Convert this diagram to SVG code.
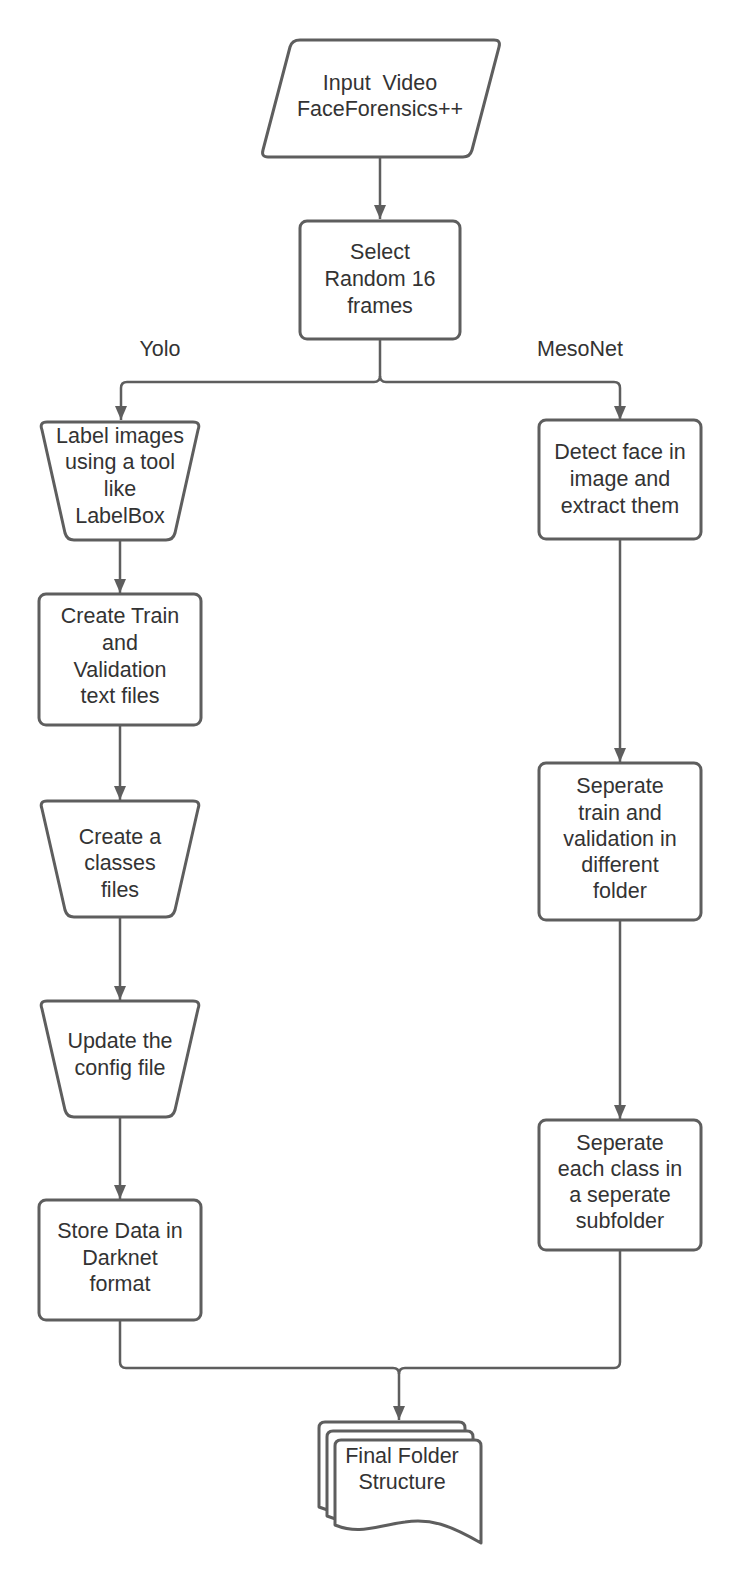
<svg xmlns="http://www.w3.org/2000/svg" width="740" height="1584" viewBox="0 0 740 1584">
<style>
.s{fill:#ffffff;stroke:#5e5e5e;stroke-width:3;stroke-linejoin:round}
.t{font-family:"Liberation Sans",Arial,sans-serif;font-size:21.5px;fill:#333333;text-anchor:middle}
.c{fill:none;stroke:#5e5e5e;stroke-width:2.5}
</style>
<defs>
<marker id="a" markerUnits="userSpaceOnUse" markerWidth="16" markerHeight="16" viewBox="0 0 16 16" refX="14" refY="8" orient="auto">
<path d="M0,2 L14,8 L0,14 Z" fill="#5e5e5e"/>
</marker>
<path id="doc" d="M0,6 Q0,0 6,0 L140,0 Q146,0 146,6 L146,103 C115,85 95,78 70,82 C40,86 25,95 0,85 Z"/>
</defs>
<g id="connectors">
<path class="c" d="M380,157 L380,219" marker-end="url(#a)"/>
<path class="c" d="M380,339 L380,376 Q380,382 374,382 L127,382 Q121,382 121,388 L121,420" marker-end="url(#a)"/>
<path class="c" d="M380,376 Q380,382 386,382 L614,382 Q620,382 620,388 L620,420" marker-end="url(#a)"/>
<path class="c" d="M120,540 L120,593" marker-end="url(#a)"/>
<path class="c" d="M120,725 L120,800" marker-end="url(#a)"/>
<path class="c" d="M120,917 L120,1000" marker-end="url(#a)"/>
<path class="c" d="M120,1117 L120,1199" marker-end="url(#a)"/>
<path class="c" d="M620,539 L620,762" marker-end="url(#a)"/>
<path class="c" d="M620,920 L620,1119" marker-end="url(#a)"/>
<path class="c" d="M120,1320 L120,1362 Q120,1368 126,1368 L393,1368 Q399,1368 399,1374 L399,1420" marker-end="url(#a)"/>
<path class="c" d="M620,1250 L620,1362 Q620,1368 614,1368 L405,1368 Q399,1368 399,1374"/>
</g>
<g id="labels">
<text class="t" x="160" y="356">Yolo</text>
<text class="t" x="580" y="356">MesoNet</text>
</g>
<g id="input">
<path class="s" d="M300,40 L494,40 Q501,40 499,47 L472,150 Q470,157 463,157 L268,157 Q261,157 263,150 L290,47 Q292,40 300,40 Z"/>
<text class="t" x="380" y="90" xml:space="preserve">Input  Video</text>
<text class="t" x="380" y="116">FaceForensics++</text>
</g>
<g id="select">
<rect class="s" x="300" y="221" width="160" height="118" rx="7"/>
<text class="t" x="380" y="259">Select</text>
<text class="t" x="380" y="286">Random 16</text>
<text class="t" x="380" y="313">frames</text>
</g>
<g id="label">
<path class="s" d="M47,422 L193,422 Q201,422 198,430 L175,533 Q173,540 166,540 L74,540 Q67,540 65,533 L42,430 Q39,422 47,422 Z"/>
<text class="t" x="120" y="443">Label images</text>
<text class="t" x="120" y="469">using a tool</text>
<text class="t" x="120" y="496">like</text>
<text class="t" x="120" y="523">LabelBox</text>
</g>
<g id="trainval">
<rect class="s" x="39" y="594" width="162" height="131" rx="7"/>
<text class="t" x="120" y="623">Create Train</text>
<text class="t" x="120" y="650">and</text>
<text class="t" x="120" y="677">Validation</text>
<text class="t" x="120" y="703">text files</text>
</g>
<g id="classes">
<path class="s" d="M47,801 L193,801 Q201,801 198,809 L175,910 Q173,917 166,917 L74,917 Q67,917 65,910 L42,809 Q39,801 47,801 Z"/>
<text class="t" x="120" y="844">Create a</text>
<text class="t" x="120" y="870">classes</text>
<text class="t" x="120" y="897">files</text>
</g>
<g id="config">
<path class="s" d="M47,1001 L193,1001 Q201,1001 198,1009 L175,1110 Q173,1117 166,1117 L74,1117 Q67,1117 65,1110 L42,1009 Q39,1001 47,1001 Z"/>
<text class="t" x="120" y="1048">Update the</text>
<text class="t" x="120" y="1075">config file</text>
</g>
<g id="darknet">
<rect class="s" x="39" y="1200" width="162" height="120" rx="7"/>
<text class="t" x="120" y="1238">Store Data in</text>
<text class="t" x="120" y="1265">Darknet</text>
<text class="t" x="120" y="1291">format</text>
</g>
<g id="detect">
<rect class="s" x="539" y="420" width="162" height="119" rx="7"/>
<text class="t" x="620" y="459">Detect face in</text>
<text class="t" x="620" y="486">image and</text>
<text class="t" x="620" y="513">extract them</text>
</g>
<g id="septrain">
<rect class="s" x="539" y="763" width="162" height="157" rx="7"/>
<text class="t" x="620" y="793">Seperate</text>
<text class="t" x="620" y="820">train and</text>
<text class="t" x="620" y="846">validation in</text>
<text class="t" x="620" y="872">different</text>
<text class="t" x="620" y="898">folder</text>
</g>
<g id="sepclass">
<rect class="s" x="539" y="1120" width="162" height="130" rx="7"/>
<text class="t" x="620" y="1150">Seperate</text>
<text class="t" x="620" y="1176">each class in</text>
<text class="t" x="620" y="1202">a seperate</text>
<text class="t" x="620" y="1228">subfolder</text>
</g>
<g id="final">
<use href="#doc" class="s" transform="translate(319,1422)"/>
<use href="#doc" class="s" transform="translate(327,1431)"/>
<use href="#doc" class="s" transform="translate(335,1440)"/>
<text class="t" x="402" y="1463">Final Folder</text>
<text class="t" x="402" y="1489">Structure</text>
</g>
</svg>
